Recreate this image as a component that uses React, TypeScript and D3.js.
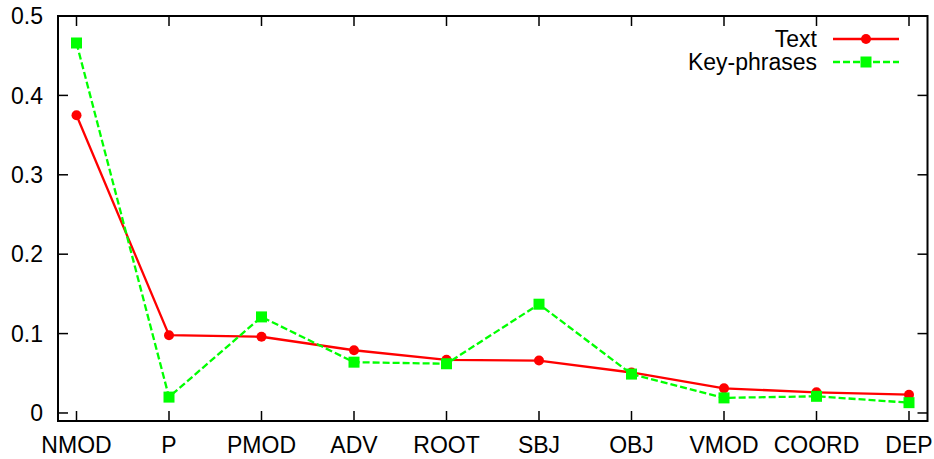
import React from "react";
import * as d3 from "d3";

const categories = ["NMOD", "P", "PMOD", "ADV", "ROOT", "SBJ", "OBJ", "VMOD", "COORD", "DEP"];
const textValues = [0.375, 0.098, 0.096, 0.079, 0.067, 0.066, 0.051, 0.031, 0.026, 0.023];
const keyPhraseValues = [0.466, 0.020, 0.121, 0.064, 0.062, 0.137, 0.049, 0.019, 0.021, 0.013];
const yTicks = [0, 0.1, 0.2, 0.3, 0.4, 0.5];
const seriesNames = ["Text", "Key-phrases"];

const W = 934;
const H = 459;
const left = 58;
const right = 927.5;
const top = 16;
const bottom = 421;
const FONT = "'Liberation Sans', Arial, Helvetica, sans-serif";
const FS = 23;
const RED = "#ff0000";
const GREEN = "#00ff00";

export default function App() {
  const x = d3.scaleLinear().domain([-0.2, categories.length - 1 + 0.2]).range([left, right]);
  const y = d3.scaleLinear().domain([-0.0101, 0.5]).range([bottom, top]);
  const line = d3
    .line<number>()
    .x((_, i) => x(i))
    .y((d) => y(d));
  const tick = 10;

  const legendY = [39, 62];
  const legendTextX = 817;
  const lx0 = 833;
  const lx1 = 899;
  const lxm = (lx0 + lx1) / 2;

  return (
    <svg
      width={W}
      height={H}
      style={{ position: "absolute", left: 0, top: 0, background: "#fff" }}
      fontFamily={FONT}
    >
      {/* ticks, mirrored on opposite sides */}
      {yTicks.map((t) => (
        <g key={"y" + t}>
          <line x1={left} x2={left + tick} y1={y(t)} y2={y(t)} stroke="#000" strokeWidth={1.5} />
          <line x1={right} x2={right - tick} y1={y(t)} y2={y(t)} stroke="#000" strokeWidth={1.5} />
          <text x={43} y={y(t)} dy="0.36em" textAnchor="end" fontSize={FS} fill="#000">
            {t === 0 ? "0" : t.toFixed(1)}
          </text>
        </g>
      ))}
      {categories.map((c, i) => (
        <g key={c}>
          <line x1={x(i)} x2={x(i)} y1={bottom} y2={bottom - tick} stroke="#000" strokeWidth={1.5} />
          <line x1={x(i)} x2={x(i)} y1={top} y2={top + tick} stroke="#000" strokeWidth={1.5} />
          <text x={x(i)} y={452.5} textAnchor="middle" fontSize={FS} fill="#000">
            {c}
          </text>
        </g>
      ))}
      <rect x={left} y={top} width={right - left} height={bottom - top} fill="none" stroke="#000" strokeWidth={2} />

      {/* Text series */}
      <path d={line(textValues) || ""} fill="none" stroke={RED} strokeWidth={2.3} />
      {textValues.map((v, i) => (
        <circle key={"t" + i} cx={x(i)} cy={y(v)} r={5} fill={RED} />
      ))}

      {/* Key-phrases series */}
      <path d={line(keyPhraseValues) || ""} fill="none" stroke={GREEN} strokeWidth={2.3} strokeDasharray="7,3" />
      {keyPhraseValues.map((v, i) => (
        <rect key={"k" + i} x={x(i) - 5.5} y={y(v) - 5.5} width={11} height={11} fill={GREEN} />
      ))}

      {/* legend */}
      <text x={legendTextX} y={legendY[0]} dy="0.36em" textAnchor="end" fontSize={FS} fill="#000">
        {seriesNames[0]}
      </text>
      <line x1={lx0} x2={lx1} y1={legendY[0]} y2={legendY[0]} stroke={RED} strokeWidth={2.3} />
      <circle cx={lxm} cy={legendY[0]} r={5} fill={RED} />
      <text x={legendTextX} y={legendY[1]} dy="0.36em" textAnchor="end" fontSize={FS} fill="#000">
        {seriesNames[1]}
      </text>
      <line x1={lx0} x2={lx1} y1={legendY[1]} y2={legendY[1]} stroke={GREEN} strokeWidth={2.3} strokeDasharray="7,3" />
      <rect x={lxm - 5.5} y={legendY[1] - 5.5} width={11} height={11} fill={GREEN} />
    </svg>
  );
}
